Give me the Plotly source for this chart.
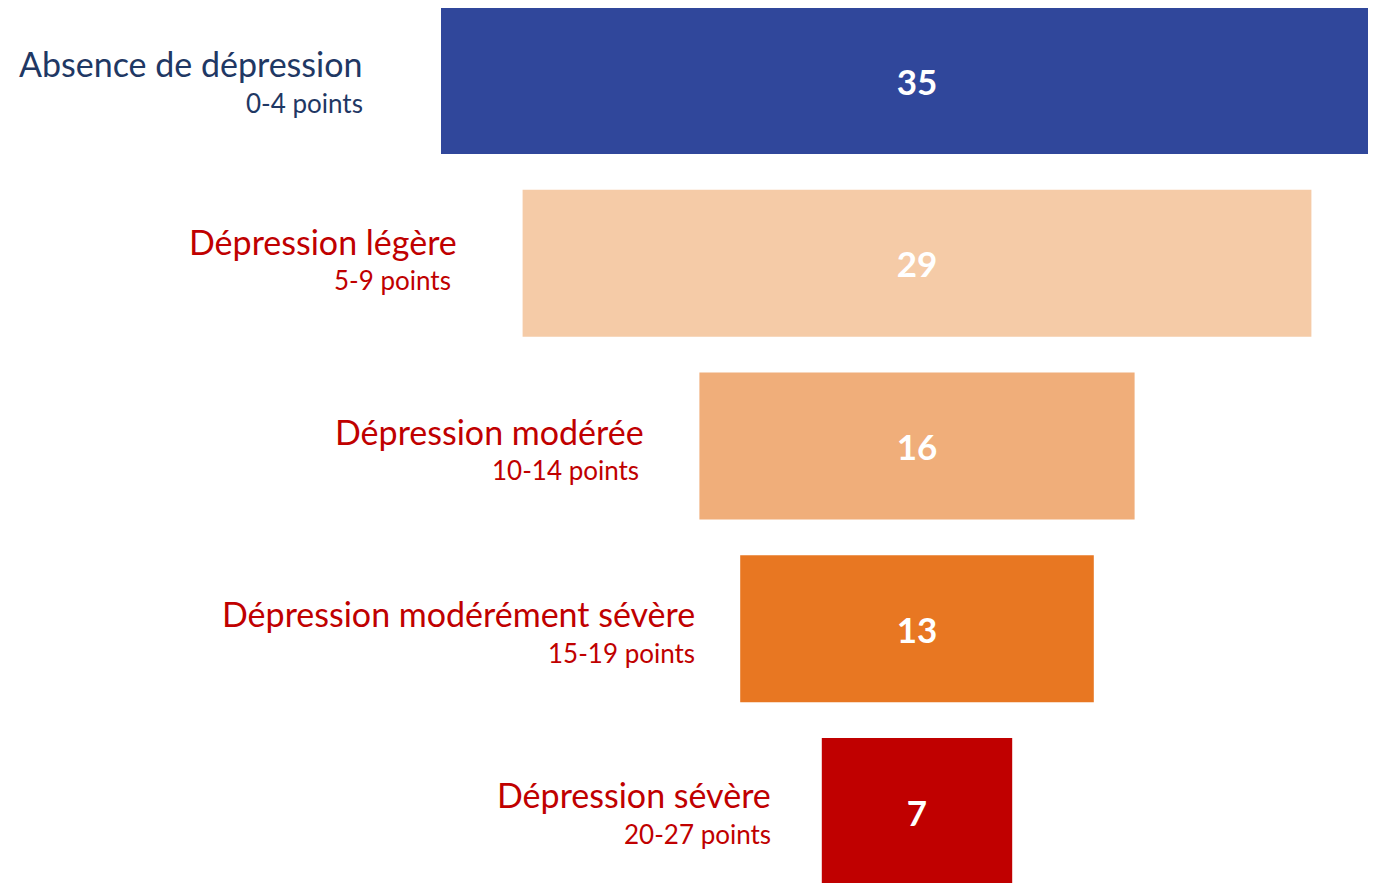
import plotly.graph_objects as go

categories = ["Absence de dépression", "Dépression légère", "Dépression modérée",
              "Dépression modérément sévère", "Dépression sévère"]
subtitles = ["0-4 points", "5-9 points", "10-14 points", "15-19 points", "20-27 points"]
values = [35, 29, 16, 13, 7]

bar_colors = ["#30479B", "#F5CBA7", "#F0AE7A", "#E87722", "#C00000"]
label_colors = ["#1F3864", "#C00000", "#C00000", "#C00000", "#C00000"]
main_shift = [-77, -64, -53, -43, -49]
sub_shift = [-76, -70, -58, -43, -49]
row_yshift = [2, 7, 0, 0, 2]

FONT = "Lato"
pos = list(range(len(values)))

fig = go.Figure()
fig.add_trace(go.Bar(
    y=pos,
    x=values,
    base=[-v / 2 for v in values],
    orientation="h",
    width=0.804,
    marker=dict(color=bar_colors, line=dict(width=0)),
    text=[str(v) for v in values],
    textposition="inside",
    insidetextanchor="middle",
    textfont=dict(family=FONT, size=35, color="white", weight="bold"),
    cliponaxis=True,
    hoverinfo="skip",
))

annotations = []
for i, v in enumerate(values):
    annotations.append(dict(
        x=-v / 2, y=i, xref="x", yref="y", xanchor="right", yanchor="middle",
        xshift=main_shift[i], yshift=15 + row_yshift[i], text=categories[i], showarrow=False,
        font=dict(family=FONT, size=34, color=label_colors[i]),
    ))
    annotations.append(dict(
        x=-v / 2, y=i, xref="x", yref="y", xanchor="right", yanchor="middle",
        xshift=sub_shift[i], yshift=-24 + row_yshift[i], text=subtitles[i], showarrow=False,
        font=dict(family=FONT, size=26, color=label_colors[i]),
    ))

fig.update_layout(
    width=1368, height=875,
    margin=dict(l=0, r=0, t=0, b=0),
    paper_bgcolor="white", plot_bgcolor="white",
    showlegend=False,
    xaxis=dict(range=[-33.419, 16.875], visible=False, fixedrange=True),
    yaxis=dict(range=[4.391, -0.3967], visible=False, fixedrange=True),
    annotations=annotations,
)

fig.write_html("out.html")
